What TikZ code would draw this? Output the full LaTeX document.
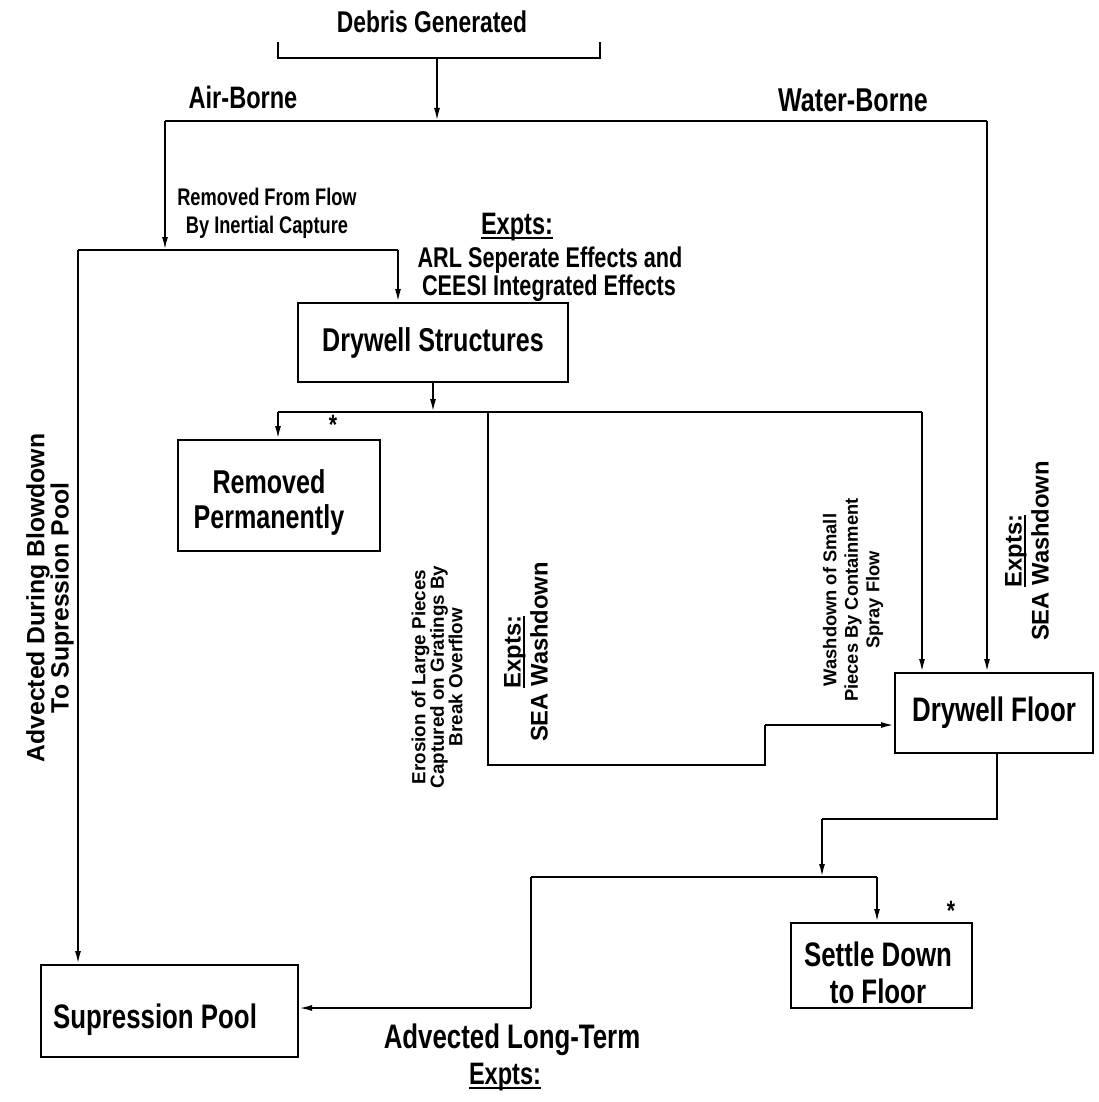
\documentclass[tikz,border=0pt]{standalone}
\usepackage{fontspec}
\setmainfont{Liberation Sans Bold}[FakeStretch=0.76]
\newfontfamily\rotfont{Liberation Sans Bold}[FakeStretch=0.99]
\usetikzlibrary{arrows.meta}
\newcommand{\fss}[2]{\fontsize{#1}{#2}\selectfont}
\newcommand{\myul}[1]{\setbox0\hbox{#1}\rlap{\vrule height -2.5pt depth 4.8pt width \wd0}\box0}
\begin{document}
\begin{tikzpicture}[x=1pt,y=-1pt,
  line/.style={line width=1.9pt},
  arr/.style={line width=1.9pt,-{Latex[length=13pt,width=6pt]}},
  box/.style={draw,line width=2pt,inner sep=0pt,anchor=center,align=center},
  lbl/.style={inner sep=0pt,align=center}]
\useasboundingbox[fill=white] (0,0) rectangle (1099,1102);

% ---------- top ----------
\node[lbl,font=\fss{30}{32}] (debris) at (432,22) {Debris Generated};
\coordinate (bl) at (278,42);
\coordinate (bl2) at (278,58);
\coordinate (br2) at (600,58);
\coordinate (br) at (600,42);
\coordinate (bm) at (437,58);
\draw[line] (bl) -- (bl2) -- (br2) -- (br);
\coordinate (tl) at (165,121);
\coordinate (tm) at (437,121);
\coordinate (tr) at (987,121);
\draw[arr] (bm) -- (tm);
\draw[line] (tl) -- (tr);
\node[lbl,font=\fss{31}{33}] (air) at (243,97) {Air-Borne};
\node[lbl,font=\fss{33}{35}] (water) at (853,100) {Water-Borne};

% ---------- boxes ----------
\node[box,minimum width=270pt,minimum height=79pt,font=\fss{33}{35}] (dws) at (433,342.5) {Drywell Structures};
\node[box,minimum width=202pt,minimum height=111pt] (rem) at (279,495.5) {};
\node[lbl,font=\fss{33}{35}] (remtxt) at (269,502) {Removed\\Permanently};
\node[box,minimum width=198pt,minimum height=80pt,font=\fss{34}{36}] (floor) at (994,713) {Drywell Floor};
\node[box,minimum width=181pt,minimum height=85pt] (settle) at (881.5,965.5) {};
\node[lbl,font=\fss{34}{37}] (settletxt) at (878,973) {Settle Down\\to Floor};
\node[box,minimum width=257pt,minimum height=92pt] (pool) at (169.5,1011) {};
\node[lbl,font=\fss{34}{36}] (pooltxt) at (155,1020) {Supression Pool};

% ---------- left / air-borne branch ----------
\coordinate (j0) at (78,250);
\coordinate (j1) at (165,250);
\coordinate (j2) at (398,250);
\draw[arr] (tl) -- (j1);
\draw[line] (j0) -- (j2);
\draw[arr] (j0) -- (pool.north -| j0);
\draw[arr] (j2) -- (dws.north -| j2);
\node[lbl,font=\fss{24}{28}] (inertial) at (267,213) {Removed From Flow\\By Inertial Capture};
\node[lbl,font=\fss{31}{33}] (expts1) at (517,227) {\myul{Expts:}};
\node[lbl,font=\fss{28.5}{30}] (arl) at (550,260) {ARL Seperate Effects and};
\node[lbl,font=\fss{28.5}{30}] (ceesi) at (549,288) {CEESI Integrated Effects};
\node[lbl,rotate=90,font=\rotfont\fss{25}{21}] (advbd) at (50,598) {Advected During Blowdown\\To Supression Pool};

% ---------- drywell structures split ----------
\coordinate (k0) at (278,412);
\coordinate (k1) at (433,412);
\coordinate (k2) at (488,412);
\coordinate (k3) at (922,412);
\draw[arr] (dws.south) -- (k1);
\draw[line] (k0) -- (k3);
\draw[arr] (k0) -- (rem.north -| k0);
\node[lbl,font=\fss{28}{28}] (star1) at (333,425) {*};
\coordinate (m1) at (488,765);
\coordinate (m2) at (765,765);
\coordinate (m3) at (765,725);
\draw[line] (k2) -- (m1) -- (m2) -- (m3);
\draw[arr] (m3) -- (floor.west |- m3);
\draw[arr] (k3) -- (floor.north -| k3);
\draw[arr] (tr) -- (floor.north -| tr);

\node[lbl,rotate=90,font=\rotfont\fss{19}{18.5}] (erosion) at (437,677) {Erosion of Large Pieces\\Captured on Gratings By\\Break Overflow};
\node[lbl,rotate=90,font=\rotfont\fss{24}{27}] (sea1) at (526,652) {\myul{Expts:}\\SEA Washdown};
\node[lbl,rotate=90,font=\rotfont\fss{18.5}{21.5}] (wash) at (853,600) {Washdown of Small\\Pieces By Containment\\Spray Flow};
\node[lbl,rotate=90,font=\rotfont\fss{24}{27}] (sea2) at (1027,551) {\myul{Expts:}\\SEA Washdown};

% ---------- drywell floor to bottom ----------
\coordinate (n0) at (997,753);
\coordinate (n1) at (997,819);
\coordinate (n2) at (822,819);
\coordinate (n3) at (822,877);
\draw[line] (n0) -- (n1) -- (n2);
\draw[arr] (n2) -- (n3);
\coordinate (p0) at (531,877);
\coordinate (p1) at (877,877);
\coordinate (p2) at (531,1008);
\draw[line] (p0) -- (p1);
\draw[arr] (p1) -- (settle.north -| p1);
\draw[line] (p0) -- (p2);
\draw[arr] (p2) -- (pool.east |- p2);
\node[lbl,font=\fss{28}{28}] (star2) at (951,911) {*};
\node[lbl,font=\fss{34}{36}] (advlt) at (512,1040) {Advected Long-Term};
\node[lbl,font=\fss{31}{33}] (expts2) at (505,1077) {\myul{Expts:}};
\end{tikzpicture}
\end{document}
